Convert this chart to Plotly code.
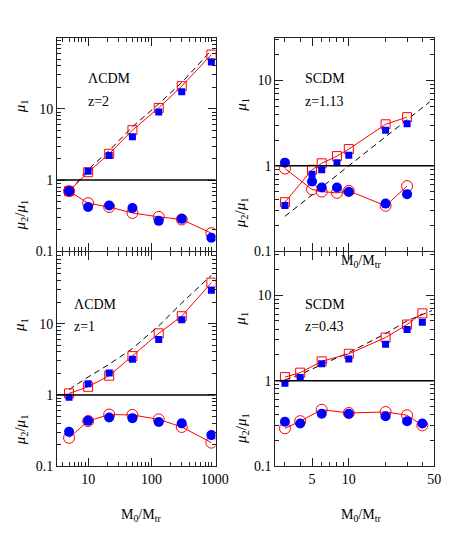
import plotly.graph_objects as go

# ── data ───────────────────────────────────────────────────────────────────────
# top-left: LCDM, z=2
x_l2 = [5, 10, 21.5, 50, 130, 300, 880]
mu1_red_l2 = [0.70, 1.29, 2.34, 5.02, 10.3, 20.8, 57.7]
mu1_blue_l2 = [0.70, 1.33, 2.22, 4.06, 9.0, 17.4, 45.3]
rat_red_l2 = [0.70, 0.475, 0.419, 0.346, 0.305, 0.28, 0.18]
rat_blue_l2 = [0.70, 0.42, 0.44, 0.405, 0.268, 0.286, 0.155]
dash_x_l2 = [6.5, 10, 21.5, 50, 130, 300, 880]
dash_y_l2 = [0.9, 1.41, 2.6, 5.6, 11.7, 23.4, 66]

# top-right: SCDM, z=1.13
x_s113 = [3, 5, 6, 8, 10, 20, 30]
mu1_red_s113 = [0.376, 0.90, 1.07, 1.30, 1.57, 3.06, 3.71]
mu1_blue_s113 = [0.344, 0.80, 0.90, 1.09, 1.33, 2.61, 3.11]
rat_red_s113 = [0.93, 0.53, 0.50, 0.483, 0.51, 0.341, 0.58]
rat_blue_s113 = [1.09, 0.657, 0.557, 0.557, 0.497, 0.362, 0.467]
dash_x_s113 = [3, 46]
dash_y_s113 = [0.257, 5.6]

# bottom-left: LCDM, z=1
x_l1 = [5, 10, 21.5, 50, 130, 300, 880]
mu1_red_l1 = [1.05, 1.30, 1.86, 3.5, 7.3, 12.7, 37.6]
mu1_blue_l1 = [0.93, 1.43, 2.03, 3.16, 6.0, 11.3, 29.3]
rat_red_l1 = [0.25, 0.43, 0.53, 0.524, 0.453, 0.355, 0.214]
rat_blue_l1 = [0.303, 0.434, 0.482, 0.472, 0.416, 0.399, 0.273]
dash_x_l1 = [5, 10, 21.5, 50, 130, 300, 880]
dash_y_l1 = [1.19, 1.78, 2.69, 4.47, 9.3, 19.5, 47.6]

# bottom-right: SCDM, z=0.43
x_s043 = [3, 4, 6, 10, 20, 30, 40]
mu1_red_s043 = [1.10, 1.24, 1.68, 2.06, 3.19, 4.53, 6.12]
mu1_blue_s043 = [0.93, 1.09, 1.58, 1.79, 2.67, 3.97, 4.83]
rat_red_s043 = [0.277, 0.336, 0.457, 0.419, 0.43, 0.394, 0.30]
rat_blue_s043 = [0.33, 0.316, 0.411, 0.411, 0.384, 0.336, 0.316]
dash_x_s043 = [3, 4, 6, 10, 20, 30, 48]
dash_y_s043 = [1.02, 1.18, 1.54, 2.13, 3.55, 5.0, 6.6]

# axis ticks
x_ticks_l = [10, 100, 1000]
x_ticks_s = [5, 10, 50]
y_ticks = [0.1, 1, 10]

RED = "#FF0000"
BLUE = "#0000FF"
FONT = "Liberation Serif"
W, H = 463, 545


def minor_vals(lo, hi):
    return [m * 10 ** e for e in range(lo, hi) for m in range(2, 10)]


fig = go.Figure()

panels = [
    # (axis suffix, x, red mu1, blue mu1, red ratio, blue ratio, dash x, dash y)
    ("", x_l2, mu1_red_l2, mu1_blue_l2, rat_red_l2, rat_blue_l2, dash_x_l2, dash_y_l2),
    ("2", x_s113, mu1_red_s113, mu1_blue_s113, rat_red_s113, rat_blue_s113, dash_x_s113, dash_y_s113),
    ("3", x_l1, mu1_red_l1, mu1_blue_l1, rat_red_l1, rat_blue_l1, dash_x_l1, dash_y_l1),
    ("4", x_s043, mu1_red_s043, mu1_blue_s043, rat_red_s043, rat_blue_s043, dash_x_s043, dash_y_s043),
]

for ax, x, r1, b1, rr, br, dx, dy in panels:
    xa, ya = "x" + ax, "y" + ax
    fig.add_trace(go.Scatter(x=dx, y=dy, xaxis=xa, yaxis=ya, mode="lines",
                             line=dict(color="black", width=1, dash="6px,4px")))
    fig.add_trace(go.Scatter(x=x, y=r1, xaxis=xa, yaxis=ya, mode="lines+markers",
                             line=dict(color=RED, width=1),
                             marker=dict(symbol="square-open", size=9, color=RED,
                                         line=dict(width=1))))
    fig.add_trace(go.Scatter(x=x, y=rr, xaxis=xa, yaxis=ya, mode="lines+markers",
                             line=dict(color=RED, width=1),
                             marker=dict(symbol="circle-open", size=11, color=RED,
                                         line=dict(width=1))))
    fig.add_trace(go.Scatter(x=x, y=b1, xaxis=xa, yaxis=ya, mode="markers",
                             marker=dict(symbol="square", size=7, color=BLUE)))
    fig.add_trace(go.Scatter(x=x, y=br, xaxis=xa, yaxis=ya, mode="markers",
                             marker=dict(symbol="circle", size=10, color=BLUE)))

# panel frames in pixels: left, right, top, bottom
frames = {
    "": (50.5, 213.5, 30, 247),
    "2": (275, 438.5, 30, 247),
    "3": (50.5, 213.5, 248, 465),
    "4": (275, 438.5, 248, 465),
}
x_ranges = {"": [0.51, 3.01], "2": [0.398, 1.699], "3": [0.51, 3.01], "4": [0.398, 1.699]}
y_ranges = {"": [-1, 2], "2": [-1, 1.5], "3": [-1, 2], "4": [-1, 1.5]}

axis_common = dict(
    type="log", showgrid=False, zeroline=False, showline=True, mirror="ticks",
    linecolor="#222222", linewidth=1, ticks="inside", ticklen=8, tickwidth=1,
    tickcolor="#222222", tickfont=dict(family=FONT, size=14, color="black"),
)

for ax, (l, r, t, b) in frames.items():
    left_col = ax in ("", "3")
    bottom_row = ax in ("3", "4")
    xt = x_ticks_l if left_col else x_ticks_s
    xmin = minor_vals(0, 3) if left_col else minor_vals(0, 2)
    fig.update_layout({
        "xaxis" + ax: dict(
            axis_common, domain=[l / W, r / W], anchor="y" + ax,
            range=x_ranges[ax], tickmode="array", tickvals=xt,
            ticktext=[str(v) for v in xt], showticklabels=bottom_row,
            minor=dict(tickmode="array", tickvals=[v for v in xmin if v not in xt],
                       ticks="inside", ticklen=4, tickcolor="#222222"),
        ),
        "yaxis" + ax: dict(
            axis_common, domain=[1 - b / H, 1 - t / H], anchor="x" + ax,
            range=y_ranges[ax], tickmode="array", tickvals=y_ticks,
            ticktext=["0.1", "1", "10"],
            minor=dict(tickmode="array", tickvals=minor_vals(-1, 2),
                       ticks="inside", ticklen=4, tickcolor="#222222"),
        ),
    })
    # horizontal line at mu = 1
    r0, r1 = y_ranges[ax]
    frac = (0 - r0) / (r1 - r0)
    fig.add_shape(type="line", xref="x" + ax + " domain", yref="y" + ax + " domain",
                  x0=0, x1=1, y0=frac, y1=frac, line=dict(color="black", width=1.5))

# ── text ───────────────────────────────────────────────────────────────────────
def note(text, px, py, size=14, angle=0, xanchor="center"):
    fig.add_annotation(text=text, x=px / W, y=1 - py / H, xref="paper", yref="paper",
                       showarrow=False, textangle=angle, xanchor=xanchor, yanchor="middle",
                       font=dict(family=FONT, size=size, color="black"))

note("ΛCDM", 80, 72, xanchor="left")
note("z=2", 80, 95, xanchor="left")
note("SCDM", 304, 72, xanchor="left")
note("z=1.13", 304, 95, xanchor="left")
note("ΛCDM", 66, 301, xanchor="left")
note("z=1", 66, 323, xanchor="left")
note("SCDM", 304, 301, xanchor="left")
note("z=0.43", 304, 323, xanchor="left")

mu1 = "<i>μ</i><sub>1</sub>"
mu21 = "<i>μ</i><sub>2</sub>/<i>μ</i><sub>1</sub>"
for px, py1, py2 in [(13, 100, 210), (240, 98, 208), (13, 322, 428), (240, 315, 427)]:
    note(mu1, px, py1, size=15, angle=-90)
    note(mu21, px, py2, size=15, angle=-90)

mlabel = "M<sub>0</sub>/M<sub>tr</sub>"
note(mlabel, 137, 515)
note(mlabel, 363, 515)
note(mlabel, 363, 257)

fig.update_layout(
    width=W, height=H, showlegend=False,
    margin=dict(l=0, r=0, t=0, b=0),
    paper_bgcolor="white", plot_bgcolor="rgba(0,0,0,0)",
)

fig.write_html("out.html")
